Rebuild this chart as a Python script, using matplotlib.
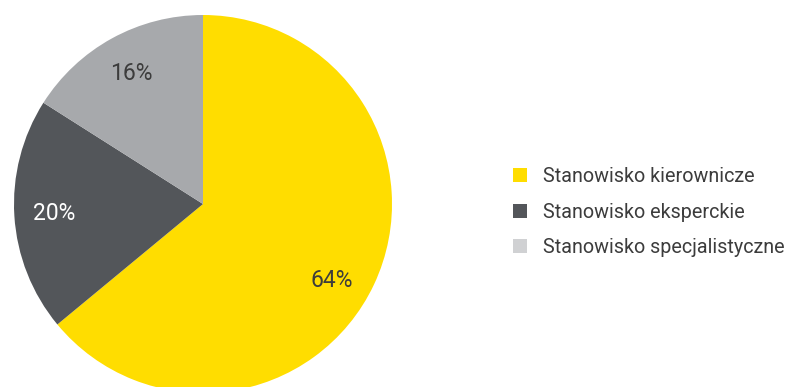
#!/usr/bin/env python3
# Pie chart: share of positions (kierownicze / eksperckie / specjalistyczne).
import matplotlib
matplotlib.use("Agg")
import matplotlib.pyplot as plt
import numpy as np
from matplotlib.patches import Patch

labels = ["Stanowisko kierownicze", "Stanowisko eksperckie",
          "Stanowisko specjalistyczne"]
shares = [64, 20, 16]

SLICE_COLORS = ["#FFDD00", "#53565A", "#A7A9AC"]
LEGEND_COLORS = ["#FFDD00", "#53565A", "#D0D1D3"]
PCT_COLORS = ["#3C3C3C", "#FFFFFF", "#3C3C3C"]
TEXT_COLOR = "#3C3C3C"
# label angle nudge (deg) per slice, the big slice label sits a bit lower
LABEL_NUDGE = [-5.5, 0, 0]
PCT_DIST = 0.79

plt.rcParams["font.family"] = ["Roboto", "DejaVu Sans"]

fig = plt.figure(figsize=(7.9, 3.87), dpi=100)
# pie axes: centre (203, 204) px, radius ~189 px
ax = fig.add_axes([14 / 790, -6 / 387, 378 / 790, 378 / 387])

wedges, _, pcts = ax.pie(
    shares, colors=SLICE_COLORS, startangle=90, counterclock=False,
    autopct=lambda p: f"{p:.0f}%", pctdistance=PCT_DIST, radius=1.0,
    wedgeprops=dict(linewidth=0))
for w, t, c, d in zip(wedges, pcts, PCT_COLORS, LABEL_NUDGE):
    t.set_color(c)
    t.set_fontsize(16.5)
    ang = np.deg2rad((w.theta1 + w.theta2) / 2 + d)
    t.set_position((PCT_DIST * np.cos(ang), PCT_DIST * np.sin(ang)))
ax.set_xlim(-1, 1)
ax.set_ylim(-1, 1)
ax.set_aspect("equal")

handles = [Patch(facecolor=c, edgecolor="none", label=l)
           for c, l in zip(LEGEND_COLORS, labels)]
leg = fig.legend(handles=handles, loc="center left",
                 bbox_to_anchor=(495 / 790, 1 - 212 / 387),
                 frameon=False, fontsize=14.2, handlelength=0.72,
                 handleheight=0.72, handletextpad=0.82, labelspacing=0.85,
                 labelcolor=TEXT_COLOR)

fig.savefig("out.png", dpi=100)
